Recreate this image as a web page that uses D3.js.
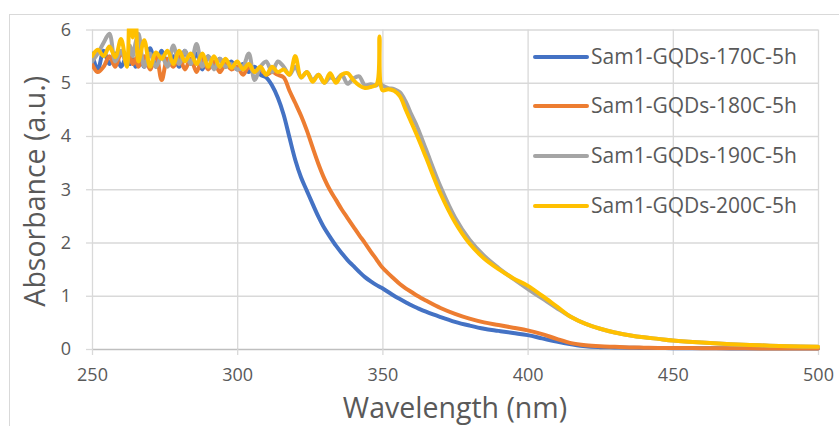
<!DOCTYPE html>
<html><head><meta charset="utf-8">
<script src="https://cdn.jsdelivr.net/npm/d3@7/dist/d3.min.js"></script>
<style>body{margin:0;background:#fff;overflow:hidden}</style>
</head><body><svg id="c" width="839" height="426"></svg>
<script>
const wavelengths = [250,252,254,256,258,260,262, 263,264,265,
  266,268,270,272,274,276,278,280,282,284,
  286,288,290,292,294,296,298,300,302,304,
  306,308,310,312,314,316,318,320,322,324,
  326,328,330,332,334,336,338,340,342,344,
  346,348,349,350,352,354,356,358,360,362,
  365,370,375,380,385,390,395,400,405,410,
  415,420,425,430,435,440,445,450,
  460,470,480,490,500];

const sam170 = [5.55,5.25,5.6,5.35,5.55,5.3,5.5, 5.35,5.45,5.3,
  5.55,5.3,5.65,5.3,5.6,5.35,5.5,5.3,5.6,5.35,
  5.55,5.25,5.5,5.3,5.45,5.3,5.4,5.25,5.35,5.2,
  5.3,5.15,5.1,4.95,4.72,4.4,3.97,3.55,3.22,2.97,
  2.72,2.48,2.27,2.1,1.94,1.8,1.67,1.56,1.45,1.35,
  1.27,1.2,1.17,1.14,1.07,1.0,0.94,0.88,0.82,0.77,
  0.7,0.6,0.51,0.44,0.38,0.34,0.3,0.26,0.2,0.14,
  0.09,0.05,0.035,0.03,0.025,0.02,0.02,0.015,
  0.015,0.01,0.01,0.01,0.01];

const sam180 = [5.35,5.2,5.3,5.5,5.3,5.55,5.4, 5.5,5.35,5.45,
  5.3,5.5,5.25,5.55,5.05,5.45,5.3,5.5,5.25,5.45,
  5.2,5.45,5.25,5.4,5.2,5.35,5.25,5.3,5.15,5.3,
  5.2,5.25,5.15,5.2,5.15,5.1,4.85,4.62,4.38,4.1,
  3.78,3.47,3.2,2.98,2.8,2.62,2.46,2.3,2.14,1.99,
  1.83,1.68,1.6,1.53,1.42,1.32,1.22,1.14,1.07,1.0,
  0.91,0.77,0.66,0.57,0.5,0.45,0.4,0.35,0.28,0.19,
  0.11,0.07,0.05,0.04,0.03,0.025,0.02,0.02,
  0.015,0.015,0.01,0.01,0.01];

const sam190 = [5.4,5.55,5.75,5.92,5.4,5.6,5.35, 5.7,5.5,5.75,
  5.92,5.3,5.55,5.3,5.5,5.3,5.7,5.35,5.6,5.35,
  5.73,5.3,5.5,5.25,5.45,5.3,5.35,5.25,5.3,5.55,
  5.05,5.3,5.4,5.2,5.4,5.3,5.15,5.3,5.1,5.2,
  5.05,5.15,5.0,5.1,5.05,5.15,4.98,5.08,5.12,4.95,
  4.97,4.95,5.0,4.95,4.9,4.88,4.82,4.65,4.4,4.17,
  3.75,3.05,2.47,2.05,1.75,1.52,1.32,1.13,0.95,0.77,
  0.6,0.47,0.38,0.31,0.26,0.22,0.19,0.16,
  0.12,0.09,0.07,0.05,0.04];

const sam200 = [5.5,5.62,5.5,5.68,5.48,5.82,5.3, 6.4,5.85,6.4,
  5.4,5.8,5.3,5.57,5.45,5.6,5.35,5.6,5.4,5.55,
  5.35,5.55,5.3,5.5,5.3,5.45,5.28,5.4,5.25,5.35,
  5.2,5.3,5.15,5.3,5.2,5.25,5.15,5.5,5.1,5.2,
  5.02,5.15,5.0,5.18,5.0,5.15,5.18,5.05,4.95,4.9,
  4.92,4.97,5.87,4.86,4.88,4.85,4.75,4.5,4.25,4.0,
  3.6,2.92,2.38,1.98,1.7,1.5,1.33,1.19,1.0,0.8,
  0.6,0.47,0.38,0.31,0.26,0.22,0.19,0.16,
  0.12,0.09,0.07,0.05,0.04];

const seriesNames = ["Sam1-GQDs-170C-5h","Sam1-GQDs-180C-5h","Sam1-GQDs-190C-5h","Sam1-GQDs-200C-5h"];
const seriesColors = ["#4472C4","#ED7D31","#A5A5A5","#FFC000"];
const seriesValues = [sam170, sam180, sam190, sam200];
const xTicks = [250,300,350,400,450,500];
const yTicks = [0,1,2,3,4,5,6];
const xTitle = "Wavelength (nm)";
const yTitle = "Absorbance (a.u.)";

const svg = d3.select("#c");
const font = "'Open Sans', Lato, sans-serif";
const textColor = "#595959";
const L = 92, R = 818, T = 29.5, B = 349;

const x = d3.scaleLinear().domain([250,500]).range([L,R]);
const y = d3.scaleLinear().domain([0,6]).range([B,T]);

// outer chart border
svg.append("rect").attr("x",9.5).attr("y",14.5).attr("width",840).attr("height",420)
  .attr("fill","none").attr("stroke","#d9d9d9").attr("stroke-width",1);

// gridlines
svg.append("g").attr("transform",`translate(${L},0)`)
  .call(d3.axisLeft(y).tickValues(yTicks.filter(d=>d>0)).tickSize(-(R-L)).tickFormat(""))
  .call(g=>g.select(".domain").remove())
  .call(g=>g.selectAll("line").attr("stroke","#d9d9d9").attr("stroke-width",1.3));
svg.append("g").attr("transform",`translate(0,${B})`)
  .call(d3.axisBottom(x).tickValues(xTicks).tickSize(-(B-T)).tickFormat(""))
  .call(g=>g.select(".domain").remove())
  .call(g=>g.selectAll("line").attr("stroke","#d9d9d9").attr("stroke-width",1.3));

// y axis ticks + labels
svg.append("g").attr("transform",`translate(${L},0)`)
  .call(d3.axisLeft(y).tickValues(yTicks).tickFormat(d3.format("d")).tickSize(6).tickPadding(15).tickSizeOuter(0))
  .call(g=>g.select(".domain").remove())
  .call(g=>g.selectAll("line").attr("stroke","#d9d9d9").attr("stroke-width",1.3))
  .call(g=>g.selectAll("text").attr("fill",textColor).style("font-family",font).style("font-size","18px"));

// x axis
svg.append("g").attr("transform",`translate(0,${B})`)
  .call(d3.axisBottom(x).tickValues(xTicks).tickFormat(d3.format("d")).tickSize(6).tickPadding(13).tickSizeOuter(0))
  .call(g=>g.select(".domain").attr("stroke","#bfbfbf").attr("stroke-width",1.3))
  .call(g=>g.selectAll("line").attr("stroke","#d9d9d9").attr("stroke-width",1.3))
  .call(g=>g.selectAll("text").attr("fill",textColor).style("font-family",font).style("font-size","18px"));

// titles
svg.append("text").attr("x",(L+R)/2).attr("y",418).attr("text-anchor","middle")
  .attr("fill",textColor).style("font-family",font).style("font-size","28.5px").text(xTitle);
svg.append("text").attr("transform",`translate(45,${(T+B)/2+2}) rotate(-90)`).attr("text-anchor","middle")
  .attr("fill",textColor).style("font-family",font).style("font-size","28.5px").text(yTitle);

// clip
svg.append("clipPath").attr("id","clip").append("rect")
  .attr("x",L).attr("y",T-1).attr("width",R-L+4).attr("height",B-T+6);

const line = d3.line().x((d,i)=>x(wavelengths[i])).y(d=>y(d)).curve(d3.curveCatmullRom.alpha(0.5));
const plot = svg.append("g").attr("clip-path","url(#clip)");
seriesValues.forEach((vals,k)=>{
  plot.append("path").attr("d",line(vals)).attr("fill","none")
    .attr("stroke",seriesColors[k]).attr("stroke-width",4)
    .attr("stroke-linejoin","round").attr("stroke-linecap","round");
});

// legend
const legY = [57,106,156,206];
seriesNames.forEach((n,k)=>{
  svg.append("line").attr("x1",535).attr("x2",587).attr("y1",legY[k]).attr("y2",legY[k])
    .attr("stroke",seriesColors[k]).attr("stroke-width",4).attr("stroke-linecap","round");
  svg.append("text").attr("x",591).attr("y",legY[k]).attr("dy","0.35em")
    .attr("fill",textColor).style("font-family",font).style("font-size","21px").text(n);
});
</script></body></html>
